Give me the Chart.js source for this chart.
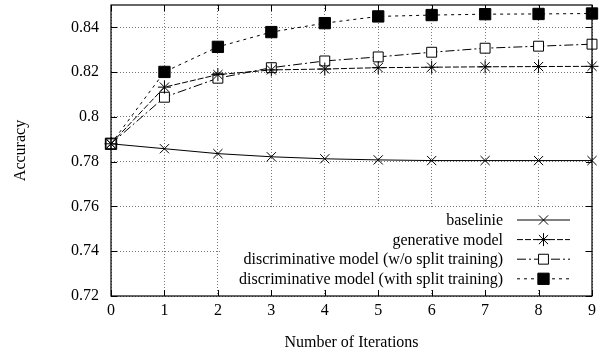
<!DOCTYPE html>
<html lang="en">
<head>
<meta charset="UTF-8" />
<title>Accuracy vs iterations</title>
<script src="https://cdn.jsdelivr.net/npm/chart.js"></script>
<style>
  html, body { margin: 0; padding: 0; background: #fff; }
  #wrap { width: 601px; height: 360px; position: relative; }
</style>
</head>
<body>
<div id="wrap"><canvas id="chart"></canvas></div>
<script>
// values
const iterations = ['0', '1', '2', '3', '4', '5', '6', '7', '8', '9'];
const baseline       = [0.788, 0.7858, 0.7836, 0.7822, 0.7813, 0.7808, 0.7805, 0.7805, 0.7805, 0.7805];
const generative     = [0.788, 0.8133, 0.8189, 0.8210, 0.8214, 0.8220, 0.8222, 0.8224, 0.8225, 0.8226];
const discNoSplit    = [0.788, 0.8088, 0.8173, 0.8220, 0.8250, 0.8268, 0.8289, 0.8307, 0.8316, 0.8325];
const discSplit      = [0.788, 0.8201, 0.8313, 0.8379, 0.8419, 0.8449, 0.8455, 0.8459, 0.8460, 0.8462];
const seriesNames = [
  'baselinie',
  'generative model',
  'discriminative model (w/o split training)',
  'discriminative model (with split training)'
];

const FONT = '"Liberation Serif", "DejaVu Serif", serif';

// gnuplot-ish frame, inward ticks and the boxed legend
const gnuplotLook = {
  id: 'gnuplotLook',
  afterDraw(chart) {
    const ctx = chart.ctx;
    const a = chart.chartArea;
    const xs = chart.scales.x, ys = chart.scales.y;

    // legend box (white, hides grid under it)
    const rowH = 19.6;
    const textRight = 503, sampleL = 517, sampleR = 570;
    ctx.save();
    ctx.fillStyle = '#fff';
    ctx.fillRect(222, 208, 362, 82);
    ctx.font = '16px ' + FONT;
    ctx.textAlign = 'right';
    ctx.textBaseline = 'middle';
    chart.data.datasets.forEach((ds, i) => {
      const y = 220 + i * rowH;
      ctx.fillStyle = '#000';
      ctx.fillText(ds.label, textRight, y + 1);
      ctx.strokeStyle = '#000';
      ctx.lineWidth = 1;
      ctx.setLineDash(ds.borderDash || []);
      ctx.beginPath();
      ctx.moveTo(sampleL, y);
      ctx.lineTo(sampleR, y);
      ctx.stroke();
      ctx.setLineDash([]);
      ctx.fillStyle = ds.pointBackgroundColor;
      ctx.strokeStyle = '#000';
      Chart.helpers.drawPoint(ctx, {
        pointStyle: ds.pointStyle,
        radius: ds.pointRadius,
        borderWidth: 1
      }, (sampleL + sampleR) / 2, y);
    });

    // frame
    ctx.strokeStyle = '#000';
    ctx.lineWidth = 1.2;
    ctx.strokeRect(a.left, a.top, a.right - a.left, a.bottom - a.top);

    // inward ticks on all four sides
    ctx.lineWidth = 1;
    const tl = 6;
    ctx.beginPath();
    xs.ticks.forEach((t, i) => {
      const x = Math.round(xs.getPixelForTick(i)) + 0.5;
      ctx.moveTo(x, a.bottom); ctx.lineTo(x, a.bottom - tl);
      ctx.moveTo(x, a.top); ctx.lineTo(x, a.top + tl);
    });
    ys.ticks.forEach(t => {
      const y = Math.round(ys.getPixelForValue(t.value)) + 0.5;
      ctx.moveTo(a.left, y); ctx.lineTo(a.left + tl, y);
      ctx.moveTo(a.right, y); ctx.lineTo(a.right - tl, y);
    });
    ctx.stroke();
    ctx.restore();
  }
};

function makeSet(label, data, style, radius, fill, dash) {
  return {
    label: label,
    data: data,
    borderColor: '#000',
    borderWidth: 1,
    borderDash: dash,
    pointStyle: style,
    pointRadius: radius,
    pointHoverRadius: radius,
    pointBorderWidth: 1,
    pointBorderColor: '#000',
    pointBackgroundColor: fill,
    backgroundColor: fill,
    tension: 0,
    fill: false,
    clip: false
  };
}

new Chart(document.getElementById('chart'), {
  type: 'line',
  data: {
    labels: iterations,
    datasets: [
      makeSet(seriesNames[0], baseline, 'crossRot', 6.5, '#000', []),
      makeSet(seriesNames[1], generative, 'star', 6.5, '#000', [6, 2]),
      makeSet(seriesNames[2], discNoSplit, 'rect', 7, '#fff', [9, 3, 2, 3]),
      makeSet(seriesNames[3], discSplit, 'rect', 8, '#000', [3, 4])
    ]
  },
  options: {
    responsive: true,
    maintainAspectRatio: false,
    animation: false,
    layout: { autoPadding: false, padding: { top: 5, right: 9, left: 0, bottom: 0 } },
    plugins: {
      legend: { display: false },
      tooltip: { enabled: false }
    },
    scales: {
      x: {
        type: 'category',
        offset: false,
        border: { display: false, dash: [1, 2] },
        grid: { color: '#777', lineWidth: 1, drawTicks: false },
        ticks: { color: '#000', font: { family: FONT, size: 16 }, padding: 5, maxRotation: 0 },
        title: {
          display: true,
          text: 'Number of Iterations',
          color: '#000',
          font: { family: FONT, size: 16 },
          padding: { top: 0, bottom: 8 }
        },
        afterFit(scale) { scale.height = 64; }
      },
      y: {
        min: 0.72,
        max: 0.85,
        border: { display: false, dash: [1, 2] },
        grid: { color: '#777', lineWidth: 1, drawTicks: false },
        ticks: {
          stepSize: 0.02,
          color: '#000',
          font: { family: FONT, size: 16 },
          padding: 12,
          callback: v => String(Math.round(v * 100) / 100)
        },
        afterBuildTicks(scale) {
          scale.ticks = scale.ticks.filter(t => t.value < 0.845);
        },
        title: {
          display: true,
          text: 'Accuracy',
          color: '#000',
          font: { family: FONT, size: 16 },
          padding: { top: 11, bottom: 0 }
        },
        afterFit(scale) {
          scale.width = 111;
          scale.paddingTop = 0;
          scale.paddingBottom = 0;
        }
      }
    }
  },
  plugins: [gnuplotLook]
});
</script>
</body>
</html>
